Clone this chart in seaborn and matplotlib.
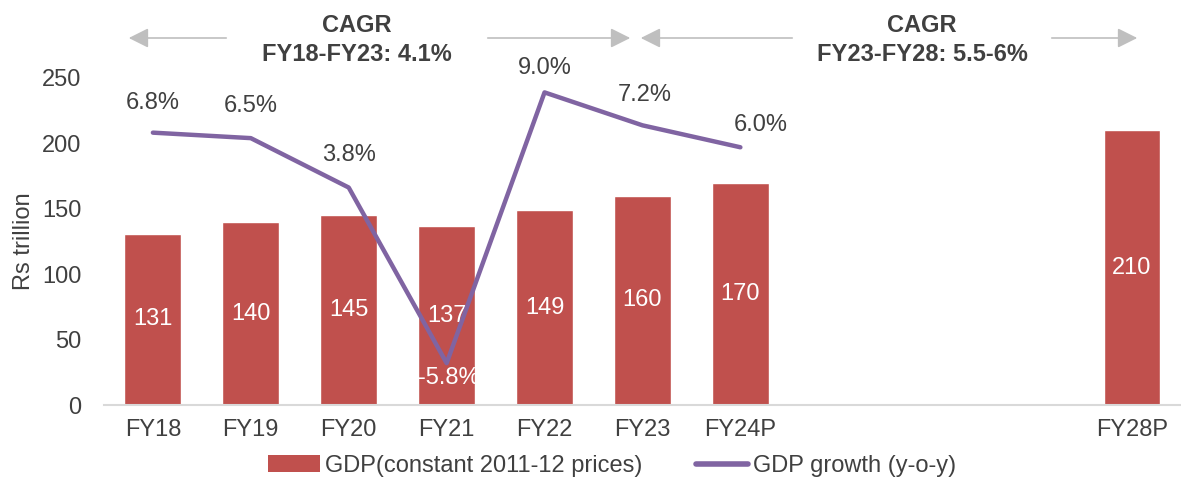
import pandas as pd
import seaborn as sns
from matplotlib import pyplot as plt
from matplotlib.patches import Patch, FancyArrowPatch
from matplotlib.lines import Line2D

years = ["FY18", "FY19", "FY20", "FY21", "FY22", "FY23", "FY24P", "FY25", "FY26", "FY27", "FY28P"]
gdp_years = ["FY18", "FY19", "FY20", "FY21", "FY22", "FY23", "FY24P", "FY28P"]
gdp = [131, 140, 145, 137, 149, 160, 170, 210]
growth_years = ["FY18", "FY19", "FY20", "FY21", "FY22", "FY23", "FY24P"]
growth = [6.8, 6.5, 3.8, -5.8, 9.0, 7.2, 6.0]
tick_labels = ["FY18", "FY19", "FY20", "FY21", "FY22", "FY23", "FY24P", "", "", "", "FY28P"]

bar_color = "#C0504D"
line_color = "#8064A2"
text_color = "#404040"
arrow_color = "#BFBFBF"
fs = 17

sns.set_theme(style="white")
plt.rcParams["font.family"] = ["Liberation Sans", "DejaVu Sans"]
plt.rcParams["text.color"] = text_color

fig = plt.figure(figsize=(11.81, 4.83), dpi=100)
ax = fig.add_axes([0.088, 0.161, 0.912, 0.678])

bars = pd.DataFrame({"year": gdp_years, "gdp": gdp})
sns.barplot(data=bars, x="year", y="gdp", order=years, color=bar_color,
            saturation=1, width=0.58, ax=ax)
ax.set_xlim(-0.5, 10.5)
ax.set_ylim(0, 250)
ax.set_yticks([0, 50, 100, 150, 200, 250])
ax.set_xticks(range(len(years)))
ax.set_xticklabels(tick_labels)
ax.tick_params(axis="both", length=0, labelsize=fs, colors=text_color)
ax.tick_params(axis="x", pad=10)
ax.tick_params(axis="y", pad=16)
ax.set_xlabel("")
ax.set_ylabel("Rs trillion", fontsize=fs, color=text_color, labelpad=5)
for side in ["left", "right", "top"]:
    ax.spines[side].set_visible(False)
ax.spines["bottom"].set_color("#D9D9D9")
ax.spines["bottom"].set_linewidth(1.5)

for container in ax.containers:
    ax.bar_label(container, labels=[f"{v:.0f}" for v in gdp], label_type="center",
                 color="white", fontsize=fs)

ax2 = ax.twinx()
line = pd.DataFrame({"pos": [years.index(y) for y in growth_years], "growth": growth})
sns.lineplot(data=line, x="pos", y="growth", color=line_color, linewidth=3.2, ax=ax2)
ax2.set_ylim(-8.1, 9.8)
ax2.set_xlim(-0.5, 10.5)
ax2.set_axis_off()

offsets = {"FY18": (0, 30), "FY19": (0, 32), "FY20": (0, 33), "FY21": (2, -15),
           "FY22": (0, 24), "FY23": (2, 30), "FY24P": (20, 22)}
for pos, yr, g in zip(line["pos"], growth_years, growth):
    dx, dy = offsets[yr]
    ax2.annotate(f"{g:.1f}%", (pos, g), xytext=(dx, dy), textcoords="offset pixels",
                 ha="center", va="center", fontsize=fs,
                 color="white" if g < 0 else text_color)

# CAGR arrows and titles, in figure pixels
W, H = 1181, 483
def arrow(x0, x1, y):
    fig.add_artist(FancyArrowPatch(
        (x0 / W, 1 - y / H), (x1 / W, 1 - y / H), transform=fig.transFigure,
        arrowstyle="-|>,head_length=8,head_width=4", mutation_scale=1.5,
        color=arrow_color, linewidth=1.2))

arrow(229, 126, 38)
arrow(485, 633, 38)
arrow(795, 638, 38)
arrow(1049, 1140, 38)
fig.text(357 / W, 1 - 40 / H, "CAGR\nFY18-FY23: 4.1%", ha="center", va="center",
         fontsize=fs, fontweight="bold", linespacing=1.3)
fig.text(922 / W, 1 - 40 / H, "CAGR\nFY23-FY28: 5.5-6%", ha="center", va="center",
         fontsize=fs, fontweight="bold", linespacing=1.3)

handles = [Patch(facecolor=bar_color, edgecolor="none"),
           Line2D([0], [0], color=line_color, linewidth=4)]
fig.legend(handles, ["GDP(constant 2011-12 prices)", "GDP growth (y-o-y)"],
           loc="center", bbox_to_anchor=(612 / W, 1 - 466 / H), ncol=2, frameon=False,
           fontsize=fs, handlelength=2.2, handletextpad=0.2, columnspacing=2.3)

plt.savefig("out.png", dpi=100)
